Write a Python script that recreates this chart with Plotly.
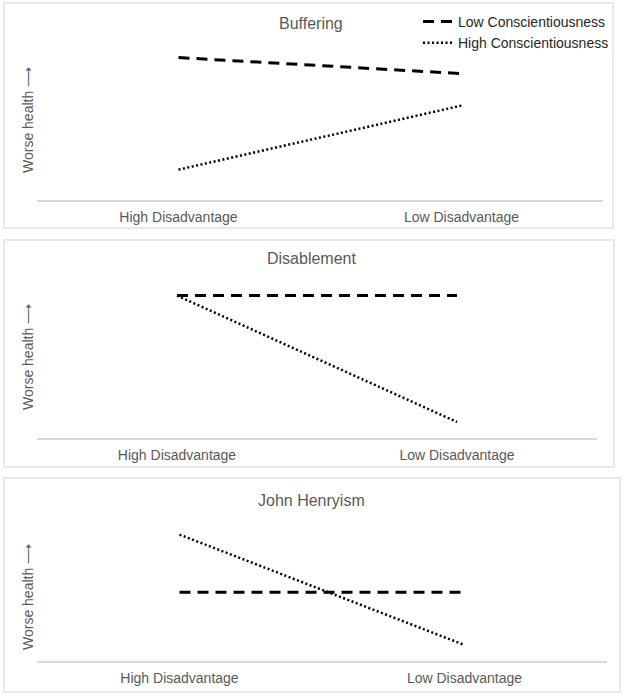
import plotly.graph_objects as go

W, H = 625, 697

categories = ["High Disadvantage", "Low Disadvantage"]
panel_titles = ["Buffering", "Disablement", "John Henryism"]
series_names = ["Low Conscientiousness", "High Conscientiousness"]
y_axis_title = "Worse health ⟶"

# Values (arbitrary "worse health" units, 0-10 scale)
buffering_low = [8.9, 7.9]
buffering_high = [1.9, 5.9]
disablement_low = [8.9, 8.9]
disablement_high = [8.9, 1.0]
henryism_low = [4.3, 4.3]
henryism_high = [7.9, 1.0]

panel_values = [
    (buffering_low, buffering_high),
    (disablement_low, disablement_high),
    (henryism_low, henryism_high),
]

# Layout geometry in pixels (x0, x1, axis_y, top_y) and border boxes
plot_boxes = [(37, 603, 200, 40), (37, 597, 438, 278), (37, 607, 661, 501)]
borders = [(4, 3, 613, 228), (4, 240, 614, 467), (4, 478, 620, 692)]
title_y = [24, 258, 500]
ytitle_y = [120, 357, 597]

def px(x):
    return x / W

def py(y):
    return 1 - y / H

FONT = "Liberation Sans, Arial, sans-serif"
GRAY = "#595959"

fig = go.Figure()
styles = [
    dict(color="black", width=3, dash="11px,7px"),
    dict(color="black", width=2.5, dash="2px,2.5px"),
]

for i, (vals, box) in enumerate(zip(panel_values, plot_boxes)):
    n = "" if i == 0 else str(i + 1)
    for j, v in enumerate(vals):
        fig.add_trace(go.Scatter(
            x=categories, y=v, mode="lines", name=series_names[j],
            line=styles[j], showlegend=(i == 0),
            xaxis="x" + n, yaxis="y" + n, hoverinfo="skip",
        ))
    x0, x1, yb, yt = box
    fig.layout["xaxis" + n] = dict(
        domain=[px(x0), px(x1)], anchor="y" + n, type="category",
        range=[-0.5, 1.5], showline=True, linecolor="#d9d9d9", linewidth=1.5,
        showgrid=False, zeroline=False, ticks="", ticklabelstandoff=3,
        tickfont=dict(family=FONT, size=14, color=GRAY), fixedrange=True,
    )
    fig.layout["yaxis" + n] = dict(
        domain=[py(yb), py(yt)], anchor="x" + n, range=[0, 10],
        showline=False, showgrid=False, zeroline=False, showticklabels=False,
        ticks="", fixedrange=True,
    )

shapes = []
for (bx0, by0, bx1, by1) in borders:
    shapes.append(dict(type="rect", xref="paper", yref="paper",
                       x0=px(bx0), x1=px(bx1), y0=py(by1), y1=py(by0),
                       line=dict(color="#e2e2e2", width=1.5), layer="below"))

annotations = []
for t, ty in zip(panel_titles, title_y):
    annotations.append(dict(text=t, x=px(311), y=py(ty), xref="paper", yref="paper",
                            showarrow=False, xanchor="center", yanchor="middle",
                            font=dict(family=FONT, size=16, color=GRAY)))
for ty in ytitle_y:
    annotations.append(dict(text=y_axis_title, x=px(28), y=py(ty), xref="paper", yref="paper",
                            showarrow=False, xanchor="center", yanchor="middle", textangle=-90,
                            font=dict(family=FONT, size=14, color=GRAY)))

fig.update_layout(
    width=W, height=H, autosize=False,
    margin=dict(l=0, r=0, t=0, b=0),
    paper_bgcolor="white", plot_bgcolor="white",
    shapes=shapes, annotations=annotations,
    showlegend=True,
    legend=dict(x=px(418), y=py(6), xanchor="left", yanchor="top",
                bgcolor="rgba(0,0,0,0)", font=dict(family=FONT, size=14, color="#262626"),
                tracegroupgap=0, itemwidth=30),
)

fig.write_html("out.html", config={"displayModeBar": False},
               post_script="document.body.style.margin='0';")
